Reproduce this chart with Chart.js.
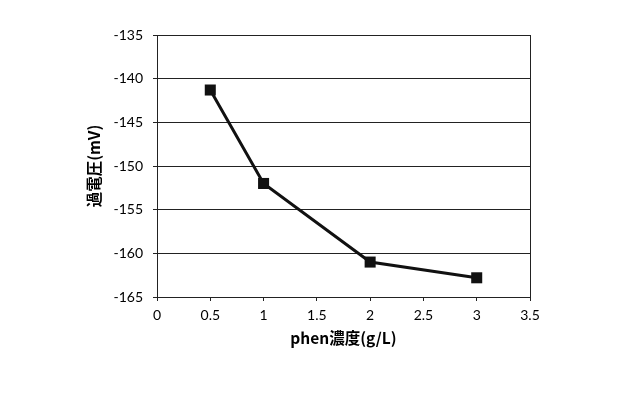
<!DOCTYPE html>
<html>
<head>
<meta charset="utf-8">
<script src="https://cdn.jsdelivr.net/npm/chart.js@4/dist/chart.umd.min.js"></script>
<style>
  body { margin: 0; background: #fff; }
</style>
</head>
<body>
<canvas id="chartCanvas" width="640" height="394"></canvas>
<script>
var concentrations = [0.5, 1, 2, 3];
var overpotential = [-141.3, -152, -161, -162.8];
var xTitle = "phen濃度(g/L)";
var yTitle = "過電圧(mV)";

var points = [];
for (var i = 0; i < concentrations.length; i++) {
  points.push({ x: concentrations[i], y: overpotential[i] });
}

// right side of the plot box
var boxPlugin = {
  id: "box",
  afterDraw: function (chart) {
    var a = chart.chartArea;
    var c = chart.ctx;
    c.save();
    c.strokeStyle = "#222";
    c.lineWidth = 1;
    c.beginPath();
    c.moveTo(a.right + 0.5, a.top);
    c.lineTo(a.right + 0.5, a.bottom);
    c.stroke();
    c.restore();
  },
};

var ctx = document.getElementById("chartCanvas").getContext("2d");
var chart = new Chart(ctx, {
  type: "scatter",
  data: {
    datasets: [
      {
        data: points,
        showLine: true,
        borderColor: "#111",
        backgroundColor: "#111",
        borderWidth: 3,
        pointStyle: "rect",
        pointRadius: 7.8,
        pointBorderWidth: 0,
      },
    ],
  },
  options: {
    responsive: false,
    animation: false,
    layout: {
      padding: { left: 80, right: 110, top: 35, bottom: 37 },
    },
    plugins: {
      legend: { display: false },
      tooltip: { enabled: false },
    },
    scales: {
      x: {
        type: "linear",
        min: 0,
        max: 3.5,
        afterFit: function (scale) {
          scale.height = 60;
        },
        ticks: {
          stepSize: 0.5,
          color: "#000",
          padding: 6,
          font: { family: "Lato", size: 14 },
          callback: function (v) {
            return String(v);
          },
        },
        grid: {
          drawOnChartArea: false,
          color: "#222",
          tickLength: 4,
        },
        border: { color: "#222", width: 1 },
        title: {
          display: true,
          text: xTitle,
          color: "#000",
          padding: { top: 0, bottom: 10 },
          font: { family: "Noto Sans CJK JP", size: 15.5, weight: "bold" },
        },
      },
      y: {
        min: -165,
        max: -135,
        afterFit: function (scale) {
          scale.width = 77;
        },
        ticks: {
          stepSize: 5,
          color: "#000",
          padding: 10,
          font: { family: "Lato", size: 14 },
        },
        grid: {
          color: "#222",
          tickLength: 4,
        },
        border: { color: "#222", width: 1 },
        title: {
          display: true,
          text: yTitle,
          color: "#000",
          padding: { top: 5, bottom: 0 },
          font: { family: "Noto Sans CJK JP", size: 15.5, weight: "bold" },
        },
      },
    },
  },
  plugins: [boxPlugin],
});
</script>
</body>
</html>
